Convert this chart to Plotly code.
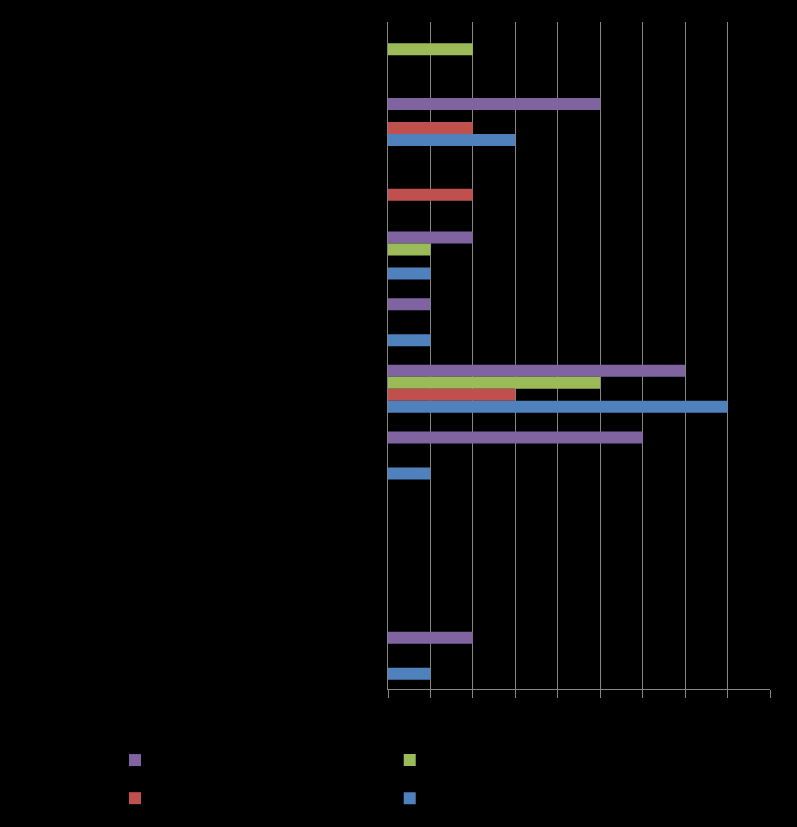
import plotly.graph_objects as go

categories = ["Category 1", "Category 2", "Category 3", "Category 4", "Category 5",
              "Category 6", "Category 7", "Category 8", "Category 9", "Category 10"]
series_names = ["Series 4", "Series 3", "Series 2", "Series 1"]
purple_vals = [None, 5, None, 2, 1, 7, 6, None, None, 2]
green_vals = [2, None, None, 1, None, 5, None, None, None, None]
red_vals = [None, 2, 2, None, None, 3, None, None, None, None]
blue_vals = [None, 3, None, 1, 1, 8, 1, None, None, 1]
x_ticks = [0, 1, 2, 3, 4, 5, 6, 7, 8, 9]

colors = ["#8064A2", "#9BBB59", "#C0504D", "#4F81BD"]
values = [purple_vals, green_vals, red_vals, blue_vals]
legend_refs = ["legend", "legend2", "legend", "legend2"]

fig = go.Figure()
for name, vals, col, lg in zip(series_names, values, colors, legend_refs):
    fig.add_trace(go.Bar(y=categories, x=vals, name=name, orientation="h", legend=lg,
                         marker=dict(color=col, line=dict(width=0))))

leg_common = dict(orientation="v", xref="container", yref="container",
                  xanchor="left", yanchor="top", font=dict(size=27, color="black"),
                  traceorder="normal", bgcolor="rgba(0,0,0,0)")

fig.update_layout(
    width=797, height=827,
    paper_bgcolor="black", plot_bgcolor="black",
    margin=dict(l=388, r=27, t=22, b=138, autoexpand=False),
    barmode="group", bargap=0.28, bargroupgap=0,
    font=dict(family="Liberation Sans, Arial", color="black", size=13),
    showlegend=True,
    legend=dict(x=0.1443, y=0.110, **leg_common),
    legend2=dict(x=0.489, y=0.110, **leg_common),
    xaxis=dict(range=[0, 9], tickvals=x_ticks, showgrid=True, gridcolor="#868686",
               gridwidth=1, showline=True, linecolor="#868686", linewidth=1,
               ticks="outside", ticklen=8, tickcolor="#868686", zeroline=False,
               automargin=False, tickfont=dict(color="black", size=13)),
    yaxis=dict(categoryorder="array", categoryarray=categories, autorange="reversed",
               showgrid=False, showline=True, linecolor="#868686", linewidth=1,
               ticks="", zeroline=False, automargin=False,
               tickfont=dict(color="black", size=13)),
)

fig.write_html("out.html")
